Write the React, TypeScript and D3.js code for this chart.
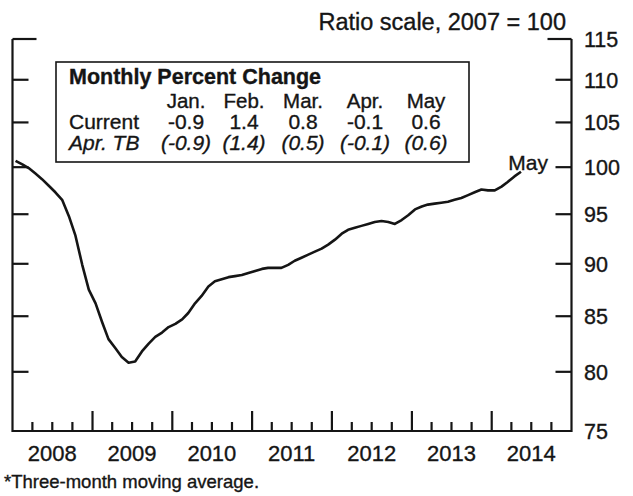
import React from 'react';
import * as d3 from 'd3';

// monthly index, 2007 = 100 (three-month moving average), Jan 2008 .. May 2014
const values = [
  100.7, 100.3, 99.9, 99.3, 98.7, 98.0, 97.3, 96.5, 94.8, 92.8, 89.9, 87.5,
  86.2, 84.4, 82.9, 82.1, 81.3, 80.8, 80.9, 81.8, 82.5, 83.1, 83.5, 84.0,
  84.3, 84.7, 85.3, 86.2, 86.9, 87.8, 88.3, 88.5, 88.7, 88.8, 88.9, 89.1,
  89.3, 89.5, 89.6, 89.6, 89.6, 89.9, 90.3, 90.6, 90.9, 91.2, 91.5, 91.9,
  92.4, 93.0, 93.4, 93.6, 93.8, 94.0, 94.2, 94.3, 94.2, 94.0, 94.4, 94.9,
  95.5, 95.8, 96.0, 96.1, 96.2, 96.3, 96.5, 96.7, 97.0, 97.3, 97.6, 97.5,
  97.5, 97.9, 98.4, 99.0, 99.5
];
const years = [2008, 2009, 2010, 2011, 2012, 2013, 2014];
const yTicks = [75, 80, 85, 90, 95, 100, 105, 110, 115];

const months = ['Jan.', 'Feb.', 'Mar.', 'Apr.', 'May'];
const current = ['-0.9', '1.4', '0.8', '-0.1', '0.6'];
const aprTB = ['(-0.9)', '(1.4)', '(0.5)', '(-0.1)', '(0.6)'];

const W = 633;
const H = 496;
const FONT = '"Liberation Sans", Arial, Helvetica, sans-serif';
const INK = '#151515';

export default function App() {
  const left = 12.5;
  const right = 571.5;
  const top = 39;
  const bottom = 431;

  const x = d3
    .scaleTime()
    .domain([new Date(2008, 0, 1), new Date(2015, 0, 1)])
    .range([left, right]);
  const y = d3.scaleLog().domain([75, 115]).range([bottom, top]);

  const data = values.map((v, i) => ({ date: new Date(2008, i, 15), v }));
  const line = d3
    .line<{ date: Date; v: number }>()
    .x((d) => x(d.date))
    .y((d) => y(d.v));

  const quarters = d3.timeMonth.every(3)!.range(new Date(2008, 0, 1), new Date(2015, 0, 1));
  const colX = [186, 244, 303, 365, 426];

  // scanned look: text a little heavier
  const txt = { fill: INK, stroke: INK, strokeWidth: 0.35 };

  return (
    <svg
      width={W}
      height={H}
      style={{ position: 'absolute', left: 0, top: 0, background: '#fff' }}
      fontFamily={FONT}
    >
      <text x={566} y={30} fontSize={23.5} textAnchor="end" {...txt}>
        Ratio scale, 2007 = 100
      </text>

      {/* frame */}
      <path
        d={`M${left},${top}V${bottom}H${right}V${top}`}
        fill="none"
        stroke={INK}
        strokeWidth={2.2}
      />

      {/* y ticks on both sides */}
      {yTicks.map((t) => (
        <g key={t}>
          {t !== 75 && (
            <>
              <line
                x1={left}
                x2={left + (t === 115 ? 24 : 16)}
                y1={y(t)}
                y2={y(t)}
                stroke={INK}
                strokeWidth={2.2}
              />
              <line
                x1={right}
                x2={right - (t === 115 ? 24 : 16)}
                y1={y(t)}
                y2={y(t)}
                stroke={INK}
                strokeWidth={2.2}
              />
            </>
          )}
          <text x={584} y={y(t)} dy="0.36em" fontSize={21.5} {...txt}>
            {t}
          </text>
        </g>
      ))}

      {/* x ticks: quarters short, years tall */}
      {quarters.map((d, i) => {
        const isYear = d.getMonth() === 0;
        if (i === 0) return null;
        return (
          <line
            key={i}
            x1={x(d)}
            x2={x(d)}
            y1={bottom}
            y2={bottom - (isYear ? 20 : 9)}
            stroke={INK}
            strokeWidth={2.2}
          />
        );
      })}
      {years.map((yr) => (
        <text
          key={yr}
          x={x(new Date(yr, 6, 1))}
          y={461}
          fontSize={22}
          textAnchor="middle"
          {...txt}
        >
          {yr}
        </text>
      ))}

      {/* series */}
      <path d={line(data) || ''} fill="none" stroke={INK} strokeWidth={2.6} strokeLinejoin="round" />
      <text x={548} y={170} fontSize={21} textAnchor="end" {...txt}>
        May
      </text>

      {/* monthly percent change box */}
      <rect x={56} y={62} width={413} height={100} fill="#fff" stroke={INK} strokeWidth={1.6} />
      <text x={69} y={84} fontSize={21.5} fontWeight="bold" {...txt}>
        Monthly Percent Change
      </text>
      {months.map((m, i) => (
        <text key={m} x={colX[i]} y={107.5} fontSize={20.5} textAnchor="middle" {...txt}>
          {m}
        </text>
      ))}
      <text x={69} y={128.5} fontSize={21} {...txt}>
        Current
      </text>
      {current.map((c, i) => (
        <text key={i} x={colX[i]} y={128.5} fontSize={21} textAnchor="middle" {...txt}>
          {c}
        </text>
      ))}
      <text x={69} y={149.5} fontSize={21} fontStyle="italic" {...txt}>
        Apr. TB
      </text>
      {aprTB.map((c, i) => (
        <text key={i} x={colX[i]} y={149.5} fontSize={21} fontStyle="italic" textAnchor="middle" {...txt}>
          {c}
        </text>
      ))}

      <text x={4} y={488} fontSize={18.5} {...txt}>
        *Three-month moving average.
      </text>
    </svg>
  );
}
